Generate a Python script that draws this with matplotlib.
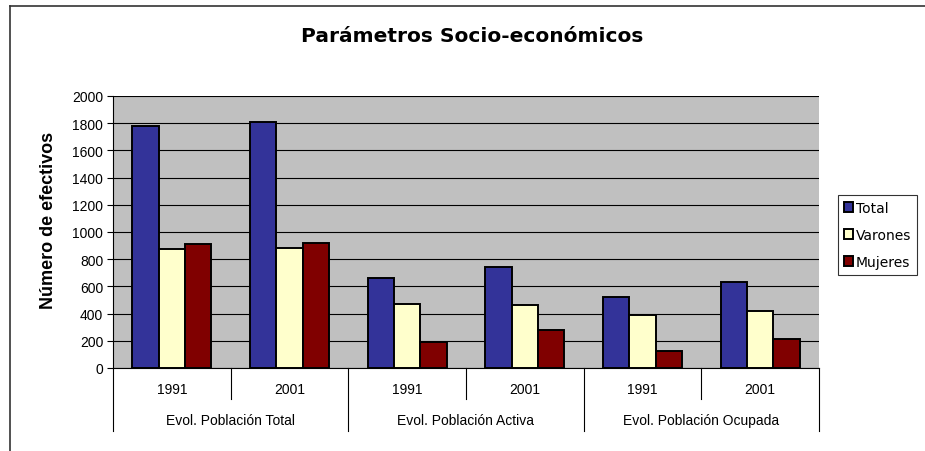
import numpy as np
import matplotlib
matplotlib.use("Agg")
import matplotlib.pyplot as plt
from matplotlib.patches import Patch
from matplotlib.lines import Line2D

plt.rcParams['font.family'] = ['Liberation Sans', 'DejaVu Sans']

# -----------------------------------------------------------------------------
# Data
# -----------------------------------------------------------------------------
years = ["1991", "2001", "1991", "2001", "1991", "2001"]
groups = ["Evol. Población Total", "Evol. Población Activa", "Evol. Población Ocupada"]
series_names = ["Total", "Varones", "Mujeres"]
total = [1780, 1810, 665, 745, 520, 630]
varones = [875, 882, 470, 465, 392, 418]
mujeres = [910, 922, 193, 283, 127, 212]
colors = ["#333399", "#FFFFCC", "#800000"]

W, H = 925, 452
fig = plt.figure(figsize=(W / 100, H / 100), dpi=100)

# plot area in pixels
x0, x1, ytop, ybot = 113, 819, 97, 369
ax = fig.add_axes([x0 / W, (H - ybot) / H, (x1 - x0) / W, (ybot - ytop) / H])
ax.set_facecolor("#C0C0C0")

x = np.arange(len(years))
bw = 0.223
for k, vals in enumerate([total, varones, mujeres]):
    ax.bar(x + (k - 1) * bw, vals, width=bw, color=colors[k],
           edgecolor="black", linewidth=1.4, zorder=3)

ax.set_xlim(-0.5, len(years) - 0.5)
ax.set_ylim(0, 2000)
ax.set_yticks(np.arange(0, 2001, 200))
ax.yaxis.grid(True, color="black", linewidth=0.8, zorder=0)
ax.set_axisbelow(True)
ax.tick_params(axis="y", labelsize=10, direction="out", length=4, width=0.8, pad=3)
ax.set_xticks([])
for s in ["top", "right"]:
    ax.spines[s].set_visible(False)
ax.spines["left"].set_linewidth(0.8)
ax.spines["bottom"].set_linewidth(0.8)

ax.set_ylabel("Número de efectivos", fontsize=13, fontweight="bold")
ax.yaxis.set_label_coords(-0.079, 0.548)

# category axis: years and groups
tr = ax.get_xaxis_transform()
px = 1.0 / (ybot - ytop)
for i, yr in enumerate(years):
    ax.text(i, -(390 - ybot) * px, yr, transform=tr, ha="center", va="center", fontsize=10)
for g, name in enumerate(groups):
    ax.text(2 * g + 0.5, -(421 - ybot) * px, name, transform=tr, ha="center", va="center", fontsize=10)
for sep in np.arange(-0.5, len(years), 1.0):
    long_sep = int(round(sep + 0.5)) % 2 == 0
    y_end = 432 if long_sep else 400
    ax.add_line(Line2D([sep, sep], [0, -(y_end - ybot) * px], transform=tr,
                       color="black", linewidth=0.8, clip_on=False))

# title
fig.text(472 / W, 1 - 36 / H, "Parámetros Socio-económicos", ha="center", va="center",
         fontsize=14.5, fontweight="bold", family="DejaVu Sans")

# outer chart border
fig.add_artist(Line2D([10 / W, 1], [1 - 7 / H, 1 - 7 / H], transform=fig.transFigure,
                      color="#333333", linewidth=1.2))
fig.add_artist(Line2D([10 / W, 10 / W], [0, 1 - 7 / H], transform=fig.transFigure,
                      color="#333333", linewidth=1.2))

# legend
handles = [Patch(facecolor=c, edgecolor="black", linewidth=1.4) for c in colors]
leg = fig.legend(handles, series_names, loc="upper left",
                 bbox_to_anchor=(838 / W, 1 - 196 / H),
                 prop={"family": "DejaVu Sans", "size": 10},
                 frameon=True, fancybox=False, shadow=False,
                 handlelength=0.7, handleheight=0.7, handletextpad=0.2,
                 labelspacing=0.95, borderpad=0.4, borderaxespad=0)
leg.get_frame().set_edgecolor("black")
leg.get_frame().set_linewidth(0.8)

fig.savefig("out.png", dpi=100)
